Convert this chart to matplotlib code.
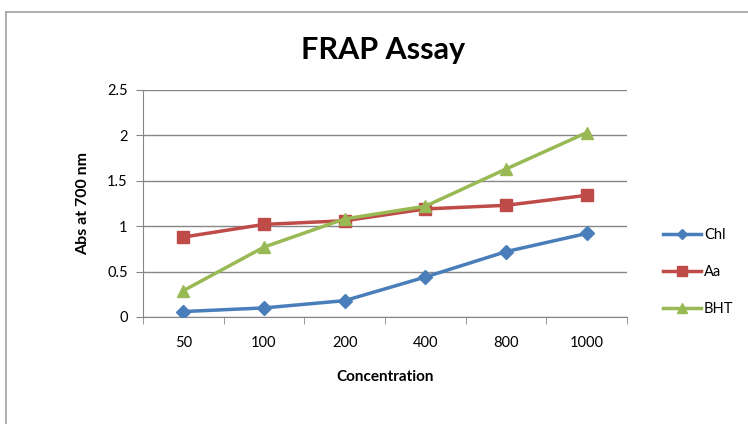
import matplotlib
matplotlib.use("Agg")
import matplotlib.pyplot as plt
from matplotlib.lines import Line2D

categories = ["50", "100", "200", "400", "800", "1000"]
chl = [0.06, 0.10, 0.18, 0.44, 0.72, 0.92]
aa = [0.88, 1.02, 1.06, 1.19, 1.23, 1.34]
bht = [0.29, 0.77, 1.08, 1.22, 1.63, 2.03]
yticks = [0, 0.5, 1, 1.5, 2, 2.5]
ytick_labels = ["0", "0.5", "1", "1.5", "2", "2.5"]

plt.rcParams['font.family'] = ['Lato', 'DejaVu Sans']

W, H = 748, 424
fig = plt.figure(figsize=(W/100, H/100), dpi=100)

# outer chart border
fig.add_artist(Line2D([6/W, 6/W], [0, 1 - 12/H], color="#a0a0a0", lw=1.2, transform=fig.transFigure))
fig.add_artist(Line2D([6/W, 1], [1 - 12/H, 1 - 12/H], color="#a0a0a0", lw=1.2, transform=fig.transFigure))

left, right, top, bottom = 143, 627, 90, 317
ax = fig.add_axes([left/W, 1 - bottom/H, (right-left)/W, (bottom-top)/H])

x = list(range(len(categories)))
ax.plot(x, chl, color="#4a7ebb", lw=2.5, marker="D", ms=7, label="Chl", zorder=3)
ax.plot(x, aa, color="#be4b48", lw=2.5, marker="s", ms=9, label="Aa", zorder=3)
ax.plot(x, bht, color="#98b954", lw=2.5, marker="^", ms=9, label="BHT", zorder=4)

ax.set_xlim(-0.5, len(categories) - 0.5)
ax.set_ylim(0, 2.5)
ax.set_yticks(yticks)
ax.set_yticklabels(ytick_labels, fontsize=10.5)
ax.set_xticks(x)
ax.set_xticklabels(categories, fontsize=10.5)
ax.tick_params(axis="x", length=0, pad=14)
ax.set_xticks([i + 0.5 for i in range(-1, len(categories))], minor=True)
ax.tick_params(axis="x", which="minor", length=5, color="#868686", direction="out")
ax.tick_params(axis="y", length=5, color="#868686", direction="out", pad=6)

ax.grid(axis="y", color="#868686", lw=1)
ax.set_axisbelow(True)
for s in ["top", "right"]:
    ax.spines[s].set_visible(False)
for s in ["left", "bottom"]:
    ax.spines[s].set_color("#868686")

ax.set_xlabel("Concentration", fontsize=11, fontweight="bold", labelpad=14)
ax.set_ylabel("Abs at 700 nm", fontsize=11.5, fontweight="bold", labelpad=12)

fig.text(383/W, 1 - 50/H, "FRAP Assay", ha="center", va="center", fontsize=22, fontweight="bold")

leg = ax.legend(loc="center left", bbox_to_anchor=(650/W, 1 - 272/H), bbox_transform=fig.transFigure,
                frameon=False, fontsize=10.5, labelspacing=1.6, handlelength=2.6, handletextpad=0.2,
                markerscale=0.8)

fig.savefig("out.png", dpi=100)
